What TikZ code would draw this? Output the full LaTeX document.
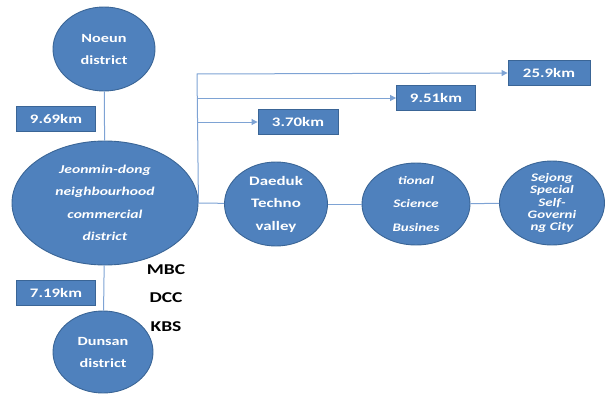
\documentclass[tikz,border=0pt]{standalone}
\usepackage{fontspec}
\setmainfont{Carlito}[FakeStretch=1.3]
\usetikzlibrary{arrows.meta,positioning,calc,shapes.geometric}
\definecolor{Blob}{HTML}{4F81BD}
\definecolor{Darkblue}{HTML}{3A6596}
\definecolor{Wire}{HTML}{7EA3D4}

\begin{document}
\begin{tikzpicture}
[x=1pt,y=-1pt,
    blob/.style={ellipse,fill=Blob,draw=Darkblue,line width=.9pt,inner sep=0pt,
    minimum width=102pt,minimum height=84pt,text=white,align=center},
    btext/.style={font=\fontsize{12.5}{22}\selectfont\bfseries},
    itext/.style={font=\fontsize{12}{22.5}\selectfont\itshape\bfseries},
    dist/.style={rectangle,fill=Blob,draw=Darkblue,line width=.9pt,text=white,
    minimum width=79pt,minimum height=25pt,inner sep=0pt,
    font=\fontsize{13}{14}\selectfont\bfseries},
    media/.style={font=\fontsize{15}{16}\selectfont\bfseries,text=black},
    wire/.style={Wire,line width=1pt},
    arrow/.style={wire,-{Triangle[length=6pt,width=6pt]}}]
\useasboundingbox (0,0) rectangle (607,396);

%% districts on the left
\node[blob,btext] (noeun) at (104,49) {Noeun\\district};
\node[blob,itext,minimum width=186pt,minimum height=124pt] (jeon) at (105,203)
{Jeonmin-dong\\neighbourhood\\commercial\\district};
\node[blob,btext,minimum width=100pt,minimum height=82pt] (dunsan) at (103,352)
{Dunsan\\district};

\node[dist] (k969) at (56,119) {9.69km};
\node[dist] (k719) at (56,293) {7.19km};

\draw[wire] (noeun) -- (jeon);
\draw[wire] (jeon) -- (dunsan);

%% broadcasters
\node[media] (mbc) at (166,270) {MBC};
\node[media] (dcc) at (166,298) {DCC};
\node[media] (kbs) at (166,327) {KBS};

%% chain to the right
\node[blob,btext,font=\fontsize{13}{22.5}\selectfont\bfseries,minimum width=103pt]
(daeduk) at (276,204) {Daeduk\\Techno\\valley};
\node[blob,minimum width=108pt,minimum height=82pt,
label={[text=white,align=center,font=\fontsize{11.5}{23.5}\selectfont\itshape\bfseries]center:Na\\tional\\Science\\Busines\\s Belt}] (sci) at (416,204) {};
\node[blob,minimum width=105pt,
font=\fontsize{11.5}{12.3}\selectfont\itshape\bfseries] (sejong) at (552,203)
{Sejong\\Special\\Self-\\Governi\\ng City};

\draw[wire] (jeon.east) -- (daeduk);
\draw[wire] (daeduk) -- (sci);
\draw[wire] (sci) -- (sejong);

%% distances
\node[dist,minimum width=82pt] (k259) at (549,73) {25.9km};
\node[dist] (k951) at (436,98) {9.51km};
\node[dist,minimum width=80pt] (k370) at (298,122) {3.70km};

\coordinate (trunk) at (197,74);
\draw[arrow] (jeon.east) -- (trunk) -- (k259.west);
\draw[arrow] (trunk|-k951.west) -- (k951.west);
\draw[arrow] (trunk|-k370.west) -- (k370.west);

\end{tikzpicture}
\end{document}
